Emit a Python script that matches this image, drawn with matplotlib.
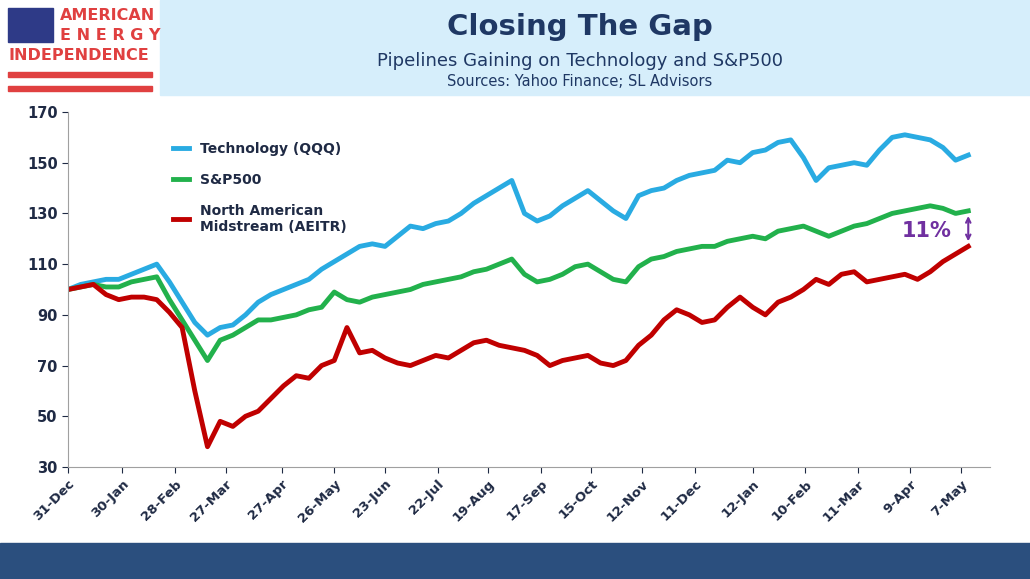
import matplotlib
matplotlib.use("Agg")
import matplotlib.pyplot as plt
import numpy as np

tick_labels = ["31-Dec","30-Jan","28-Feb","27-Mar","27-Apr","26-May","23-Jun","22-Jul","19-Aug",
               "17-Sep","15-Oct","12-Nov","11-Dec","12-Jan","10-Feb","11-Mar","9-Apr","7-May"]
tick_days = [0,30,59,87,118,147,175,204,232,261,289,317,346,378,407,436,465,493]

tech = [100,102,103,104,104,106,108,110,103,95,87,82,85,86,90,95,98,100,102,104,108,111,114,117,118,117,
        121,125,124,126,127,130,134,137,140,143,130,127,129,133,136,139,135,131,128,137,139,140,143,145,
        146,147,151,150,154,155,158,159,152,143,148,149,150,149,155,160,161,160,159,156,151,153]
sp = [100,101,102,101,101,103,104,105,96,88,80,72,80,82,85,88,88,89,90,92,93,99,96,95,97,98,99,100,102,
      103,104,105,107,108,110,112,106,103,104,106,109,110,107,104,103,109,112,113,115,116,117,117,119,120,
      121,120,123,124,125,123,121,123,125,126,128,130,131,132,133,132,130,131]
mid = [100,101,102,98,96,97,97,96,91,85,60,38,48,46,50,52,57,62,66,65,70,72,85,75,76,73,71,70,72,74,73,
       76,79,80,78,77,76,74,70,72,73,74,71,70,72,78,82,88,92,90,87,88,93,97,93,90,95,97,100,104,102,106,
       107,103,104,105,106,104,107,111,114,117]
days = np.arange(len(tech)) * 7

fig = plt.figure(figsize=(10.30, 5.79), dpi=100)
fig.patch.set_facecolor("white")
fig.patches.append(plt.Rectangle((160/1030, 1-95/579), 870/1030, 95/579, transform=fig.transFigure,
                                 color="#D6EEFB", zorder=0))
fig.patches.append(plt.Rectangle((0, 0), 1, 36/579, transform=fig.transFigure, color="#2B4F7E", zorder=0))
# logo
fig.patches.append(plt.Rectangle((8/1030, 1-42/579), 45/1030, 34/579, transform=fig.transFigure, color="#2E3A87"))
for yy in (77, 91):
    fig.patches.append(plt.Rectangle((8/1030, 1-yy/579), 144/1030, 5/579, transform=fig.transFigure, color="#E04040"))
kw = dict(color="#E04040", fontweight="bold", transform=fig.transFigure, va="center")
fig.text(60/1030, 1-16/579, "AMERICAN", fontsize=11.5, **kw)
fig.text(60/1030, 1-36/579, "E N E R G Y", fontsize=11.5, **kw)
fig.text(8/1030, 1-55/579, "INDEPENDENCE", fontsize=11.5, **kw)

fig.text(580/1030, 1-27/579, "Closing The Gap", fontsize=21, fontweight="bold", color="#1F3864", ha="center", va="center")
fig.text(580/1030, 1-61/579, "Pipelines Gaining on Technology and S&P500", fontsize=13, color="#1F3864", ha="center", va="center")
fig.text(580/1030, 1-82/579, "Sources: Yahoo Finance; SL Advisors", fontsize=10.5, color="#1F3864", ha="center", va="center")

ax = fig.add_axes([68/1030, 1-467/579, 922/1030, 355/579])
ax.plot(days, tech, color="#29ABE2", lw=3.5, label="Technology (QQQ)")
ax.plot(days, sp, color="#22B14C", lw=3.5, label="S&P500")
ax.plot(days, mid, color="#C00000", lw=3.5, label="North American\nMidstream (AEITR)")
ax.set_ylim(30, 170)
ax.set_yticks(range(30, 171, 20))
ax.set_xlim(0, 509)
ax.set_xticks(tick_days)
ax.set_xticklabels(tick_labels, rotation=45, ha="right", rotation_mode="anchor")
for s in ("top", "right"):
    ax.spines[s].set_visible(False)
for s in ("left", "bottom"):
    ax.spines[s].set_color("#A0A0A0")
ax.tick_params(colors="#1F2A44", labelsize=10.5, length=4)
for t in ax.get_xticklabels() + ax.get_yticklabels():
    t.set_fontweight("bold")
ax.tick_params(axis="x", labelsize=9.5)
leg = ax.legend(loc="upper left", bbox_to_anchor=(0.1, 0.95), frameon=False, handlelength=1.2,
                labelspacing=1.2, prop={"weight": "bold", "size": 10})
for t in leg.get_texts():
    t.set_color("#1F2A44")
ax.annotate("", xy=(497, 119), xytext=(497, 129),
            arrowprops=dict(arrowstyle="<->", color="#7030A0", lw=1.5, mutation_scale=8, shrinkA=0, shrinkB=0))
ax.text(488, 123, "11%", color="#7030A0", fontsize=15, fontweight="bold", ha="right", va="center")
fig.savefig("out.png", dpi=100)
